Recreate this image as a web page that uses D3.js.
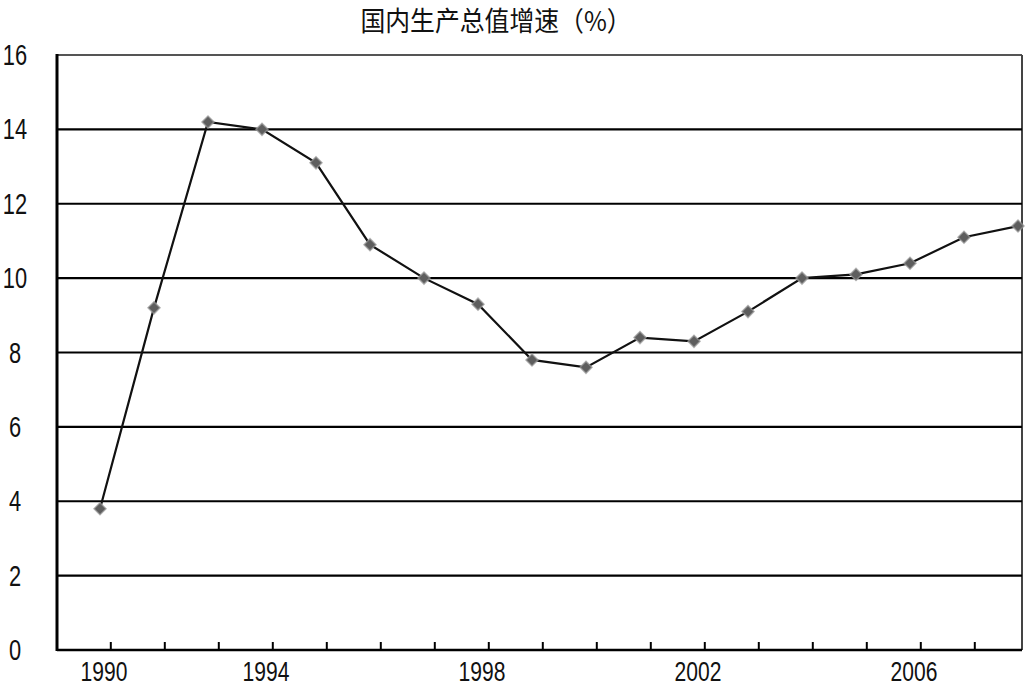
<!DOCTYPE html>
<html>
<head>
<meta charset="utf-8">
<script src="https://cdn.jsdelivr.net/npm/d3@7/dist/d3.min.js"></script>
<style>
  html, body { margin: 0; padding: 0; background: #fff; }
  svg { display: block; }
  text { font-family: "Liberation Sans", "DejaVu Sans", sans-serif; fill: #111; }
</style>
</head>
<body>
<svg id="chart" width="1027" height="688"></svg>
<script>
var svg = d3.select("#chart");

var width = +svg.attr("width");
var height = +svg.attr("height");

// data
var years = [1990, 1991, 1992, 1993, 1994, 1995, 1996, 1997, 1998, 1999,
             2000, 2001, 2002, 2003, 2004, 2005, 2006, 2007];
var growth = [3.8, 9.2, 14.2, 14.0, 13.1, 10.9, 10.0, 9.3, 7.8, 7.6,
              8.4, 8.3, 9.1, 10.0, 10.1, 10.4, 11.1, 11.4];
var yTicks = [0, 2, 4, 6, 8, 10, 12, 14, 16];
// the labels in the original sit under these years' positions
var xLabels = ["1990", "1994", "1998", "2002", "2006"];
var xLabelAt = [1990, 1993, 1997, 2001, 2005];
var title = "国内生产总值增速（%）";

var plotLeft = 57, plotRight = 1022, plotTop = 55, plotBottom = 650;

var x = d3.scaleLinear().domain([1990, 2007]).range([100, 1018]);
var y = d3.scaleLinear().domain([0, 16]).range([plotBottom, plotTop]);

// frame top / right (grey)
svg.append("line")
  .attr("x1", plotLeft).attr("x2", plotRight)
  .attr("y1", y(16)).attr("y2", y(16))
  .attr("stroke", "#555").attr("stroke-width", 2);
svg.append("line")
  .attr("x1", plotRight).attr("x2", plotRight)
  .attr("y1", y(16)).attr("y2", plotBottom)
  .attr("stroke", "#444").attr("stroke-width", 2);

// horizontal gridlines
svg.append("g").selectAll("line")
  .data(yTicks.filter(function (d) { return d > 0 && d < 16; }))
  .enter().append("line")
  .attr("x1", plotLeft).attr("x2", plotRight)
  .attr("y1", function (d) { return y(d); })
  .attr("y2", function (d) { return y(d); })
  .attr("stroke", "#000").attr("stroke-width", 2.2);

// left and bottom axis lines
svg.append("line")
  .attr("x1", plotLeft).attr("x2", plotLeft)
  .attr("y1", y(16) - 1).attr("y2", plotBottom + 1)
  .attr("stroke", "#000").attr("stroke-width", 3);
svg.append("line")
  .attr("x1", plotLeft).attr("x2", plotRight)
  .attr("y1", plotBottom).attr("y2", plotBottom)
  .attr("stroke", "#000").attr("stroke-width", 2.5);

// x tick marks, pointing up into the plot
svg.append("g").selectAll("line")
  .data(years)
  .enter().append("line")
  .attr("x1", function (d) { return x(d + 0.2); })
  .attr("x2", function (d) { return x(d + 0.2); })
  .attr("y1", plotBottom).attr("y2", plotBottom - 8)
  .attr("stroke", "#000").attr("stroke-width", 2);

// y labels
svg.append("g").selectAll("text")
  .data(yTicks)
  .enter().append("text")
  .attr("transform", function (d) { return "translate(15," + (y(d) + 10) + ") scale(0.78,1.05)"; })
  .attr("text-anchor", "middle")
  .style("font-size", "28px")
  .text(function (d) { return d; });

// x labels
svg.append("g").selectAll("text")
  .data(xLabels)
  .enter().append("text")
  .attr("transform", function (d, i) { return "translate(" + (x(xLabelAt[i]) + 4) + ",681) scale(0.78,1.05)"; })
  .attr("text-anchor", "middle")
  .style("font-size", "27px")
  .text(function (d) { return d; });

// line
var line = d3.line()
  .x(function (d, i) { return x(years[i]); })
  .y(function (d) { return y(d); });

svg.append("path")
  .datum(growth)
  .attr("d", line)
  .attr("fill", "none")
  .attr("stroke", "#111")
  .attr("stroke-width", 2.2);

// diamond markers (square turned 45 degrees)
var marker = d3.symbol().type(d3.symbolSquare).size(72);
svg.append("g").selectAll("path")
  .data(growth)
  .enter().append("path")
  .attr("d", marker)
  .attr("transform", function (d, i) { return "translate(" + x(years[i]) + "," + y(d) + ") rotate(45)"; })
  .attr("fill", "#5e5e5e")
  .attr("stroke", "#999")
  .attr("stroke-width", 1.5)
  .attr("stroke-opacity", 0.7);

// title
svg.append("text")
  .attr("transform", "translate(496,31) scale(0.92,1)")
  .attr("text-anchor", "middle")
  .style("font-family", "'Noto Sans CJK SC', sans-serif")
  .style("font-size", "27px")
  .text(title);
</script>
</body>
</html>
